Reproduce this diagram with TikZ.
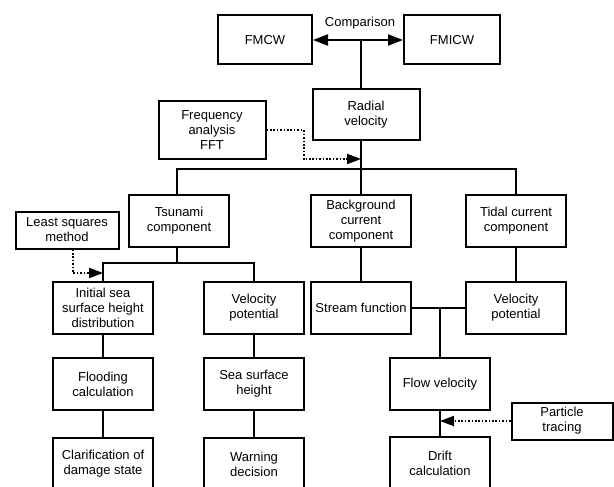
\documentclass[tikz,border=0pt]{standalone}
\usepackage{fontspec}
\setmainfont{Liberation Sans}
\usetikzlibrary{arrows.meta}

\begin{document}
\begin{tikzpicture}[x=1pt, y=-1pt, font=\fontsize{13}{15}\selectfont,
  box/.style={draw, line width=2pt, align=center, inner sep=0pt,
    minimum width=100pt, minimum height=52pt},
  link/.style={line width=2pt},
  hint/.style={line width=2pt, dash pattern=on 1.6pt off 1.8pt,
    -{Triangle[length=14pt,width=10pt]}},
  compare/.style={line width=2.2pt,
    {Triangle[length=15pt,width=11pt]}-{Triangle[length=15pt,width=11pt]}}]
\clip (0,0) rectangle (614,487);
\node[box, minimum width=94pt, minimum height=49pt] (fmcw) at (265,40) {FMCW};
\node[box, minimum width=96pt, minimum height=49pt] (fmicw) at (452,40) {FMICW};
\node (cmplabel) at (360,23) {Comparison};
\node[box, minimum width=107pt, minimum height=51pt] (radial) at (366,115) {Radial\\velocity};
\node[box, minimum width=107pt, minimum height=58pt] (fft) at (212,130) {Frequency\\analysis\\FFT};
\node[box] (tsunami) at (179,221) {Tsunami\\component};
\node[box] (background) at (361,221) {Background\\current\\component};
\node[box] (tidal) at (516,221) {Tidal current\\component};
\node[box, minimum width=103pt, minimum height=37pt] (lsq) at (67,230) {Least squares\\method};
\node[box] (initial) at (103,308) {Initial sea\\surface height\\distribution};
\node[box] (velpotL) at (254,308) {Velocity\\potential};
\node[box] (flooding) at (103,384) {Flooding\\calculation};
\node[box] (seaheight) at (254,384) {Sea surface\\height};
\node[box] (damage) at (103,464) {Clarification of\\damage state};
\node[box] (warning) at (254,464) {Warning\\decision};
\node[box] (stream) at (361,308) {Stream function};
\node[box] (velpotR) at (516,308) {Velocity\\potential};
\node[box] (flow) at (440,384) {Flow velocity};
\node[box, minimum width=101pt, minimum height=37pt] (particle) at (562,421) {Particle\\tracing};
\node[box] (drift) at (440,463) {Drift\\calculation};

\coordinate (split) at (361,40);
\coordinate (trunk) at (361,169);
\coordinate (fftin) at (361,159);
\coordinate (tsubus) at (177,263);
\coordinate (lsqin) at (103,273);

\draw[compare] (fmcw.east) -- (fmicw.west);
\draw[link] (split) -- (split |- radial.north);
\draw[link] (radial.south -| trunk) -- (background.north -| trunk);
\draw[link] (tsunami.north -| tsubus) |- (trunk) -| (tidal.north);
\draw[hint] (fft.east) -- ++(37,0) |- (fftin);
\draw[link] (tsunami.south -| tsubus) -- (tsubus);
\draw[link] (initial.north) |- (tsubus) -| (velpotL.north);
\draw[hint] ([xshift=6pt]lsq.south) |- (lsqin);
\foreach \a/\b in {initial/flooding, flooding/damage, velpotL/seaheight,
  seaheight/warning, background/stream, tidal/velpotR, flow/drift}
  \draw[link] (\a) -- (\b);
\draw[link] (stream) -- (velpotR);
\draw[link] (flow) -- (flow |- stream);
\draw[hint] (particle) -- (particle -| flow);
\end{tikzpicture}
\end{document}
